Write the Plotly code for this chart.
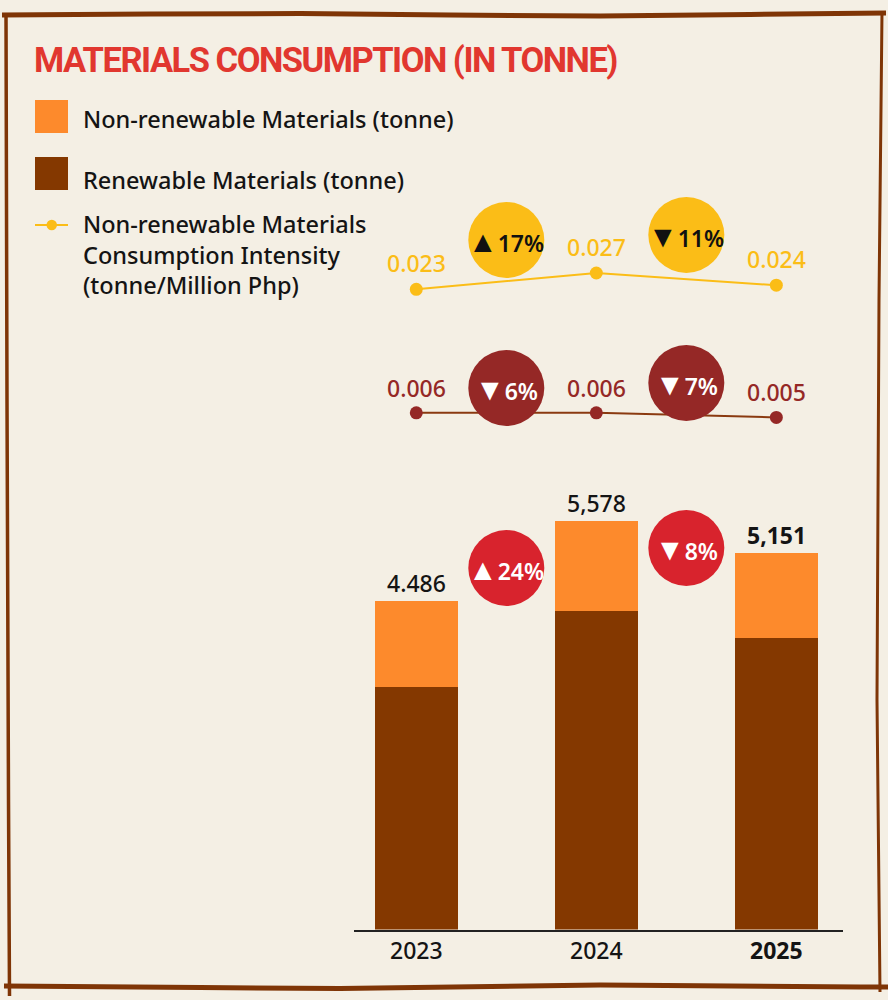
import plotly.graph_objects as go

W, H = 888, 1000

# ---------------- data ----------------
years = ["2023", "2024", "2025"]
year_ticktext = ["2023", "2024", "<b>2025</b>"]
renewable = [3318, 4359, 3984]          # tonne
non_renewable = [1168, 1219, 1167]      # tonne
total_labels = ["4.486", "5,578", "<b>5,151</b>"]
total_change = [("▲", "24%"), ("▼", "8%")]

nonrenew_intensity = [0.023, 0.027, 0.024]
nonrenew_intensity_labels = ["0.023", "0.027", "0.024"]
nonrenew_intensity_change = [("▲", "17%"), ("▼", "11%")]

renew_intensity = [0.006, 0.006, 0.005]
renew_intensity_labels = ["0.006", "0.006", "0.005"]
renew_intensity_change = [("▼", "6%"), ("▼", "7%")]

# ---------------- style ----------------
BG = "#f4efe4"
ORANGE = "#fd8a2c"
BROWN = "#843800"
YELLOW = "#fbbd17"
DARKRED = "#952826"
RED = "#d8232d"
TITLE_RED = "#e1372f"
BORDER = "#7f3506"
TXT = "#141414"
FONT = "Noto Sans"
WT = 500

xpos = list(range(len(years)))
mid = [i + 0.5 for i in range(len(years) - 1)]
totals = [a + b for a, b in zip(renewable, non_renewable)]


def py(y):
    return 1 - y / H


def px(x):
    return x / W


fig = go.Figure()

fig.add_trace(go.Bar(x=xpos, y=renewable, marker=dict(color=BROWN, line_width=0),
                     width=0.463, name="Renewable Materials (tonne)", xaxis="x", yaxis="y"))
fig.add_trace(go.Bar(x=xpos, y=non_renewable, marker=dict(color=ORANGE, line_width=0),
                     width=0.463, name="Non-renewable Materials (tonne)", xaxis="x", yaxis="y"))

fig.add_trace(go.Scatter(x=xpos, y=nonrenew_intensity, mode="lines+markers",
                         line=dict(color=YELLOW, width=2), marker=dict(color=YELLOW, size=13),
                         xaxis="x", yaxis="y2", cliponaxis=False))
fig.add_trace(go.Scatter(x=xpos, y=renew_intensity, mode="lines+markers",
                         line=dict(color="#8a3a10", width=2), marker=dict(color=DARKRED, size=13),
                         xaxis="x", yaxis="y3", cliponaxis=False))

annotations = []
shapes = []

# total labels
for i, (t, lab) in enumerate(zip(totals, total_labels)):
    annotations.append(dict(x=i, y=t, xref="x", yref="y", text=lab, showarrow=False,
                            yanchor="middle", yshift=18,
                            font=dict(family=FONT, size=23, color=TXT, weight=WT)))

# intensity labels
for i, (v, lab) in enumerate(zip(nonrenew_intensity, nonrenew_intensity_labels)):
    annotations.append(dict(x=i, y=v, xref="x", yref="y2", text=lab, showarrow=False,
                            yanchor="middle", yshift=26,
                            font=dict(family=FONT, size=23, color=YELLOW, weight=WT)))
for i, (v, lab) in enumerate(zip(renew_intensity, renew_intensity_labels)):
    annotations.append(dict(x=i, y=v, xref="x", yref="y3", text=lab, showarrow=False,
                            yanchor="middle", yshift=25,
                            font=dict(family=FONT, size=23, color=DARKRED, weight=WT)))

# change badges
R = 38


def badge(xm, ypix, color, change, tcolor):
    arrow, pct = change
    shapes.append(dict(type="circle", xref="x", yref="paper", xsizemode="pixel", ysizemode="pixel",
                       xanchor=xm, yanchor=py(ypix), x0=-R, x1=R, y0=-R, y1=R,
                       fillcolor=color, line_width=0, layer="above"))
    annotations.append(dict(x=xm, y=py(ypix), xref="x", yref="paper",
                            text=f"<span style='font-size:30px'>{arrow}</span>{pct}", showarrow=False,
                            xanchor="center", yanchor="middle",
                            font=dict(family=FONT, size=23, color=tcolor, weight=600)))


for xm, yp, t in zip(mid, [240, 235], nonrenew_intensity_change):
    badge(xm, yp, YELLOW, t, "#111111")
for xm, yp, t in zip(mid, [388, 383], renew_intensity_change):
    badge(xm, yp, DARKRED, t, "white")
for xm, yp, t in zip(mid, [568, 548], total_change):
    badge(xm, yp, RED, t, "white")

# title
annotations.append(dict(x=px(32), y=py(60), xref="paper", yref="paper", xanchor="left", yanchor="middle",
                        text="<span style='letter-spacing:-1.5px'><b>MATERIALS CONSUMPTION (IN TONNE)</b></span>",
                        showarrow=False,
                        font=dict(family="Roboto", size=34.5, color=TITLE_RED)))

# legend
shapes.append(dict(type="rect", xref="paper", yref="paper", x0=px(35), x1=px(68), y0=py(133), y1=py(100),
                   fillcolor=ORANGE, line_width=0))
shapes.append(dict(type="rect", xref="paper", yref="paper", x0=px(35), x1=px(68), y0=py(190), y1=py(157),
                   fillcolor=BROWN, line_width=0))
shapes.append(dict(type="line", xref="paper", yref="paper", x0=px(35), x1=px(68), y0=py(225), y1=py(225),
                   line=dict(color=YELLOW, width=2)))
shapes.append(dict(type="circle", xref="paper", yref="paper", x0=px(46.5), x1=px(57), y0=py(230.3), y1=py(219.7),
                   fillcolor=YELLOW, line_width=0))
leg_font = dict(family=FONT, size=23.5, color=TXT, weight=WT)
annotations.append(dict(x=px(81), y=py(119), xref="paper", yref="paper", xanchor="left", yanchor="middle",
                        text="Non-renewable Materials (tonne)", showarrow=False, font=leg_font))
annotations.append(dict(x=px(81), y=py(180), xref="paper", yref="paper", xanchor="left", yanchor="middle",
                        text="Renewable Materials (tonne)", showarrow=False, font=leg_font))
annotations.append(dict(x=px(81), y=py(254.5), xref="paper", yref="paper", xanchor="left", yanchor="middle",
                        align="left",
                        text="Non-renewable Materials<br>Consumption Intensity<br>(tonne/Million Php)",
                        showarrow=False, font=leg_font))


# hand-drawn frame
def path(points):
    s = "M " + " L ".join(f"{px(x):.5f},{py(y):.5f}" for x, y in points)
    return s


frame = [
    ([(2, 15), (150, 14), (300, 13.5), (450, 15), (600, 16), (750, 14.5), (886, 13)], 5),
    ([(6, 14), (7, 400), (8.5, 800), (9.5, 996)], 3.5),
    ([(882, 12), (879, 300), (877, 700), (880, 992)], 3),
    ([(4, 986), (200, 987.5), (340, 988.5), (600, 985), (860, 987), (888, 987)], 5),
]
for pts, w in frame:
    shapes.append(dict(type="path", xref="paper", yref="paper", path=path(pts),
                       line=dict(color=BORDER, width=w)))

fig.update_layout(
    width=W, height=H, margin=dict(l=0, r=0, t=0, b=0),
    paper_bgcolor=BG, plot_bgcolor=BG,
    barmode="stack", bargap=0, showlegend=False,
    font=dict(family=FONT, color=TXT),
    xaxis=dict(domain=[px(354), px(843.3)], range=[-0.346, 2.372], tickvals=xpos, ticktext=year_ticktext,
               showline=True, linecolor="#222222", linewidth=1.5, showgrid=False, zeroline=False,
               ticks="", tickfont=dict(family=FONT, size=23, color=TXT, weight=WT), anchor="y",
               fixedrange=True),
    yaxis=dict(domain=[py(929.5), py(480)], range=[0, 6145], visible=False, fixedrange=True),
    yaxis2=dict(domain=[py(300), py(260)], range=[0.020374, 0.030190], visible=False, anchor="x"),
    yaxis3=dict(domain=[py(430), py(400)], range=[0.002261, 0.008783], visible=False, anchor="x"),
    annotations=annotations, shapes=shapes,
)

fig.write_html("out.html")
